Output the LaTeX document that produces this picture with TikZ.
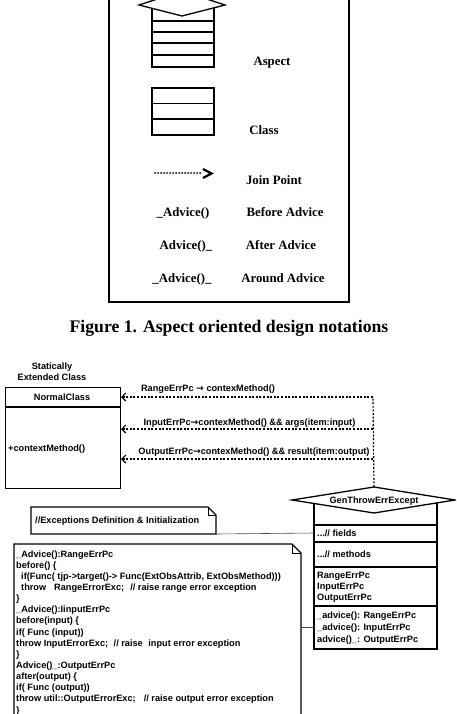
\documentclass[tikz,border=0pt]{standalone}
\usepackage{fontspec}
\setmainfont{Liberation Serif}
\newfontfamily\sansfam{Liberation Sans}
\newfontfamily\arrowfam{DejaVu Sans}
\newcommand{\rarr}{{\arrowfam\bfseries →}}
\usetikzlibrary{arrows.meta}
\begin{document}
\begin{tikzpicture}[x=1pt,y=-1pt,
  legend/.style={font=\bfseries\fontsize{12.8}{14}\selectfont, inner sep=0, anchor=base},
  sans/.style={font=\sansfam\bfseries\fontsize{9.2}{11}\selectfont, inner sep=0, anchor=base west},
  sansc/.style={sans, anchor=base},
  frameline/.style={line width=1.8pt},
  iconline/.style={line width=1.3pt},
  boxline/.style={line width=1.4pt},
  thinline/.style={line width=0.6pt, draw=black!70},
  dep/.style={line width=1.2pt, dash pattern=on 2pt off 1.6pt},
  deparrow/.style={dep, -{Straight Barb[length=4pt,width=8pt,line width=1.2pt]}}
]
\useasboundingbox (0,0) rectangle (456,714);
\clip (0,0) rectangle (456,714);

% ---------- Figure 1: legend ----------
\draw[frameline] (109,-5) rectangle (349,302);

% Aspect icon
\draw[iconline] (152,8) rectangle (214,67);
\foreach \yy in {21,32,43,55} \draw[iconline] (152,\yy) -- (214,\yy);
\draw[iconline, fill=white] (139,5) -- (182,-9) -- (225,5) -- (182,16) -- cycle;
\node[legend] (tAspect) at (272,66) {Aspect};

% Class icon
\draw[iconline] (152,88) rectangle (214,135);
\draw[iconline] (152,103.5) -- (214,103.5);
\draw[iconline] (152,119) -- (214,119);
\node[legend] (tClass) at (264,135) {Class};

% Join point arrow
\coordinate (jpA) at (155,173);
\coordinate (jpB) at (200,173);
\draw[line width=2pt, line cap=round, dash pattern=on 0pt off 3pt] (jpA) -- (jpB);
\coordinate (jh1) at (203,169);
\coordinate (jh2) at (211.5,173.5);
\coordinate (jh3) at (203,178);
\draw[line width=2.2pt] (jh1) -- (jh2) -- (jh3);
\node[legend] (tJoin) at (274,184) {Join Point};

\node[legend] (tA1) at (183,216) {\_Advice()};
\node[legend] (tB1) at (285,216) {Before Advice};
\node[legend] (tA2) at (186,249) {Advice()\_};
\node[legend] (tB2) at (281,249) {After Advice};
\node[legend] (tA3) at (182,282) {\_Advice()\_};
\node[legend] (tB3) at (283,282) {Around Advice};

\node[font=\bfseries\fontsize{17.7}{20}\selectfont, inner sep=0, anchor=base] (cap) at (229,332) {Figure 1. Aspect oriented design notations};

% ---------- Second diagram ----------
\node[sansc] (st1) at (52,369) {Statically};
\node[sansc] (st2) at (52,380) {Extended Class};

\node[draw, boxline, minimum width=115pt, minimum height=101pt, anchor=north west, inner sep=0] (nc) at (5,387) {};
\draw[boxline] (5,407) -- (120,407);
\node[sansc] (ncName) at (62,400) {NormalClass};
\node[sans] (ncMeth) at (8,451) {+contextMethod()};

% GenThrowErrExcept aspect
\draw[iconline] (314,503) rectangle (437,649);
\foreach \yy in {525,542,567,606} \draw[iconline] (314,\yy) -- (437,\yy);
\coordinate (gL) at (292,500);
\coordinate (gT) at (374,487);
\coordinate (gR) at (455,500);
\coordinate (gB) at (374,513);
\draw[iconline, fill=white] (gL) -- (gT) -- (gR) -- (gB) -- cycle;
\node[sansc] (gName) at (374,503) {GenThrowErrExcept};
\node[sans] (gF) at (317,536) {...// fields};
\node[sans] (gM) at (317,557) {...// methods};
\node[sans] (gP1) at (317,578) {RangeErrPc};
\node[sans] (gP2) at (317,589) {InputErrPc};
\node[sans] (gP3) at (317,600) {OutputErrPc};
\node[sans] (gA1) at (317,618) {\_advice(): RangeErrPc};
\node[sans] (gA2) at (317,630) {\_advice(): InputErrPc};
\node[sans] (gA3) at (317,642) {advice()\_: OutputErrPc};

% Join point connectors
\coordinate (v1) at (373,397);
\coordinate (v2) at (373,429);
\coordinate (v3) at (373,459);
\coordinate (t1) at (121,397);
\coordinate (t2) at (121,429);
\coordinate (t3) at (121,459);
\draw[dep] (gT) -- (v1);
\draw[deparrow] (v1) -- (t1);
\draw[deparrow] (v2) -- (t2);
\draw[deparrow] (v3) -- (t3);
\node[sansc] (l1) at (208,391) {RangeErrPc \rarr{} contexMethod()};
\node[sansc] (l2) at (249.5,425) {InputErrPc\rarr{}contexMethod() \&\& args(item:input)};
\node[sansc] (l3) at (254,454) {OutputErrPc\rarr{}contexMethod() \&\& result(item:output)};

% Note box
\coordinate (nTL) at (31,507);
\coordinate (nF1) at (208,507);
\coordinate (nF2) at (216,515);
\coordinate (nBR) at (216,534);
\coordinate (nBL) at (31,534);
\draw[boxline, line join=miter] (nTL) -- (nF1) -- (nF2) -- (nBR) -- (nBL) -- cycle;
\draw[line width=1pt] (nF1) -- (208,515) -- (nF2);
\node[sans] (noteText) at (35,523) {//Exceptions Definition \& Initialization};
\coordinate (fieldsL) at (314,533);
\draw[thinline] (nBR) -- (fieldsL);

% Code box
\coordinate (cTL) at (14,544);
\coordinate (cF1) at (292,544);
\coordinate (cF2) at (301,553);
\coordinate (cBR) at (301,730);
\coordinate (cBL) at (14,730);
\draw[boxline] (cTL) -- (cF1) -- (cF2) -- (cBR) -- (cBL) -- cycle;
\draw[line width=1pt] (cF1) -- (292,553) -- (cF2);
\coordinate (codeR) at (301,627);
\coordinate (advL) at (314,627);
\draw[thinline] (codeR) -- (advL);

\foreach \t [count=\i from 0] in {
  {\_Advice():RangeErrPc},
  {before() \{},
  {\hspace{5pt}if(Func( tjp->target()-> Func(ExtObsAttrib, ExtObsMethod)))},
  {\hspace{5pt}throw\hspace{8pt}RangeErrorExc;\hspace{6pt}// raise range error exception},
  {\}},
  {\_Advice():IinputErrPc},
  {before(input) \{},
  {if( Func (input))},
  {throw InputErrorExc;\hspace{5.5pt}// raise\hspace{5.5pt}input error exception},
  {\}},
  {Advice()\_:OutputErrPc},
  {after(output) \{},
  {if( Func (output))},
  {throw util::OutputErrorExc;\hspace{8pt}// raise output error exception},
  {\}}
}
  \node[sans] (code\i) at (16,557+11.15*\i) {\t};

\end{tikzpicture}
\end{document}
